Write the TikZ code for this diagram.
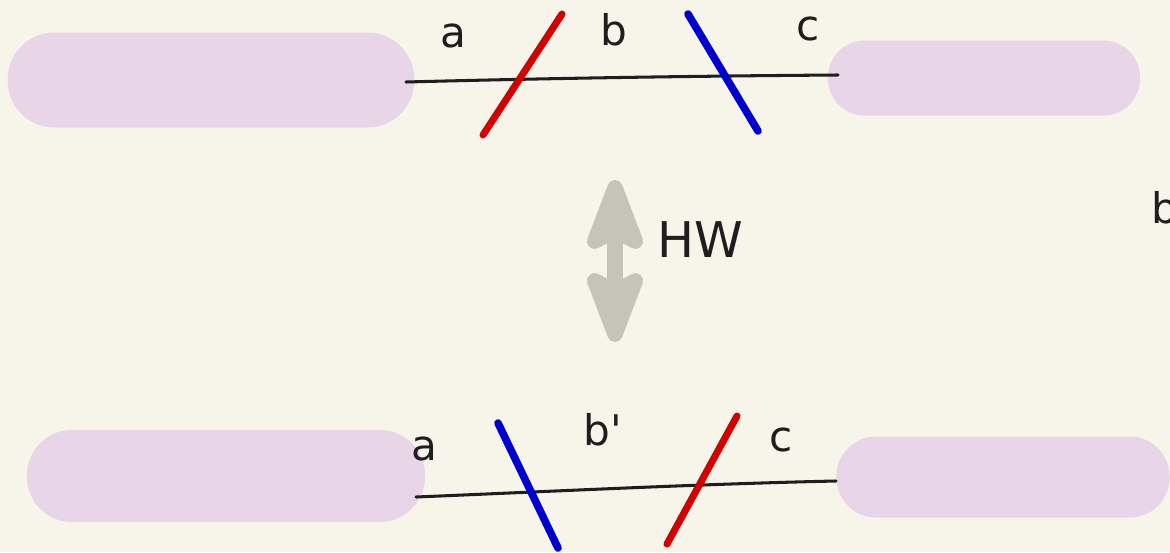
\documentclass[tikz,border=0pt]{standalone}
\usepackage{fontspec}
\setmainfont{DejaVu Sans}
\usetikzlibrary{arrows.meta}

\definecolor{paper}{RGB}{247,245,234}
\definecolor{blobpink}{RGB}{232,213,232}
\definecolor{cutred}{RGB}{210,0,0}
\definecolor{cutblue}{RGB}{0,0,205}
\definecolor{arrowgrey}{RGB}{196,196,184}
\definecolor{ink}{RGB}{30,30,30}

\begin{document}
\begin{tikzpicture}[x=0.03cm, y=-0.03cm,
  blob/.style={fill=blobpink, inner sep=0pt},
  wire/.style={draw=ink, line width=2.6pt, line cap=round},
  redcut/.style={draw=cutred, line width=6pt, line cap=round},
  bluecut/.style={draw=cutblue, line width=6.5pt, line cap=round},
  lbl/.style={text=ink, font=\fontsize{36}{40}\selectfont, inner sep=0pt},
  hwarrow/.style={draw=arrowgrey, line width=13pt,
    {Stealth[length=2.7cm, width=2.0cm, inset=0.5cm, round]}-{Stealth[length=2.7cm, width=2.0cm, inset=0.5cm, round]}}]
\fill[paper] (0,0) rectangle (1170,552);
\useasboundingbox (0,0) rectangle (1170,552);

% upper picture
\node[blob, rounded corners=1.4cm, minimum width=12.2cm, minimum height=2.85cm] (topleft) at (211,80) {};
\node[blob, rounded corners=1.1cm, minimum width=9.36cm, minimum height=2.25cm] (topright) at (984,78) {};
\coordinate (ta) at (406,82);
\coordinate (tc) at (838,75);
\draw[wire] (ta) .. controls (560,78) and (700,76) .. (tc);
\coordinate (r1a) at (483,135);
\coordinate (r1b) at (562,14);
\draw[redcut] (r1a) -- (r1b);
\coordinate (b1a) at (688,14);
\coordinate (b1b) at (758,131);
\draw[bluecut] (b1a) -- (b1b);
\node[lbl] (la) at (453,36) {a};
\node[lbl] (lb) at (614,30) {b};
\node[lbl] (lc) at (808,29) {c};

% the move between them
\coordinate (hwtop) at (615,180);
\coordinate (hwbot) at (615,342);
\draw[hwarrow] (hwtop) -- (hwbot);
\node[lbl, font=\fontsize{42}{46}\selectfont] (hw) at (700,240) {HW};
\node[lbl] (rb) at (1165,208) {b};

% lower picture
\node[blob, rounded corners=1.35cm, minimum width=11.94cm, minimum height=2.76cm] (botleft) at (226,476) {};
\node[blob, rounded corners=1.2cm, minimum width=10cm, minimum height=2.43cm] (botright) at (1003,477) {};
\coordinate (ba) at (416,497);
\coordinate (bc) at (836,481);
\draw[wire] (ba) .. controls (560,491) and (700,484) .. (bc);
\coordinate (b2a) at (498,423);
\coordinate (b2b) at (558,548);
\draw[bluecut] (b2a) -- (b2b);
\coordinate (r2a) at (737,416);
\coordinate (r2b) at (667,544);
\draw[redcut] (r2a) -- (r2b);
\node[lbl] (la2) at (424,449) {a};
\node[lbl] (lb2) at (603,430) {b\textquotesingle};
\node[lbl] (lc2) at (781,440) {c};
\end{tikzpicture}
\end{document}
